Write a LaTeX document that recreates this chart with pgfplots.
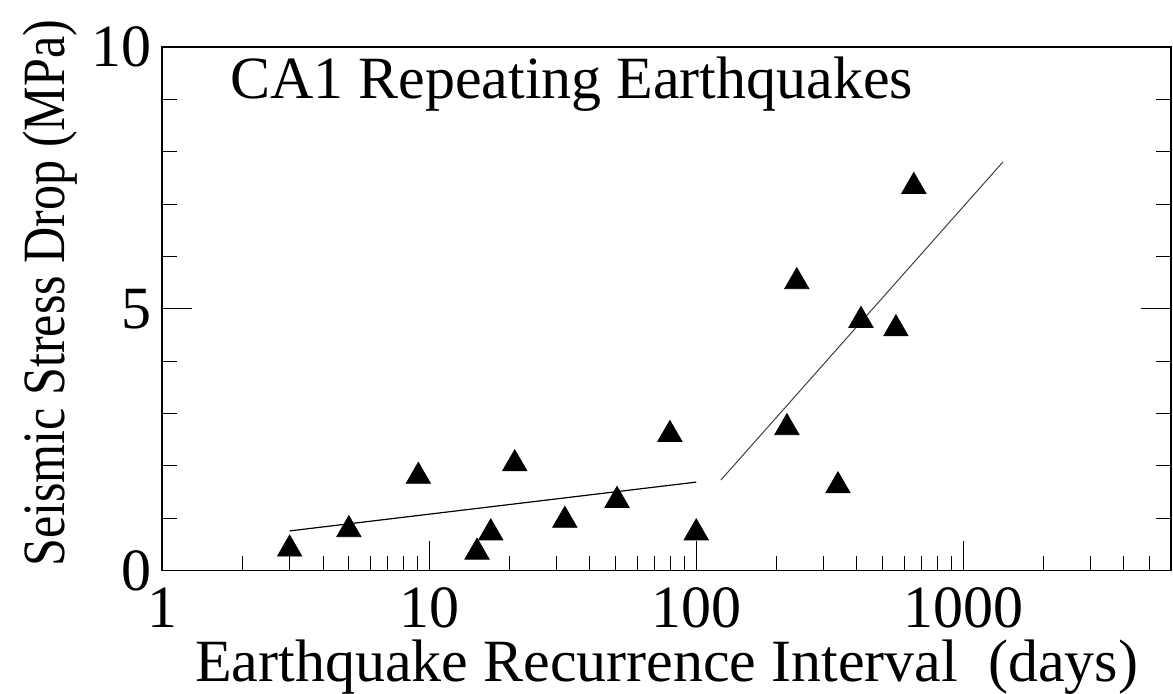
\documentclass[border=0pt]{standalone}
\usepackage{fontspec}
\setmainfont{Liberation Serif}
\usepackage{graphicx}
\usepackage{pgfplots}
\pgfplotsset{compat=1.18}
\begin{document}
\begin{tikzpicture}
\begin{axis}[
  scale only axis,
  width=504.5pt, height=261.7pt,
  xmode=log, xmin=1, xmax=6000,
  ymin=0, ymax=10,
  xtick={1,10,100,1000}, xticklabels={1,10,100,1000},
  minor xtick={2,3,4,5,6,7,8,9,20,30,40,50,60,70,80,90,200,300,400,500,600,700,800,900,2000,3000,4000,5000},
  ytick={0,5,10},
  minor ytick={1,2,3,4,6,7,8,9},
  tick align=inside,
  xtick pos=left, ytick pos=both,
  major tick length=15pt, minor tick length=7.5pt,
  every tick/.style={black, line width=0.5pt},
  axis line style={line width=0.8pt},
  /pgf/number format/assume math mode=true,
  tick label style={font=\fontsize{30}{36}\selectfont, inner sep=2pt},
  xticklabel style={inner sep=0pt, yshift=-8.5pt},
  yticklabel style={xshift=-3pt},
  xlabel={Earthquake Recurrence Interval\ \ (days)},
  xlabel style={font=\fontsize{30}{36}\selectfont, at={(rel axis cs:0.5,0)}, anchor=base, yshift=-55.7pt, inner sep=0pt},
  ylabel={\scalebox{0.835}[1]{Seismic Stress Drop (MPa)}},
  ylabel style={font=\fontsize{30}{36}\selectfont, at={(axis description cs:-0.0971,0.53)}, anchor=base, inner sep=0pt},
  clip=false,
]
\addplot[black, line width=0.6pt, mark=none] coordinates {(3,0.757) (100,1.69)};
\addplot[black!75, line width=0.5pt, mark=none] coordinates {(123.7,1.73) (1409,7.81)};
\addplot[only marks, mark=triangle*, mark size=7pt, black] coordinates {
(3,0.41) (5,0.78) (9.1,1.80) (15.1,0.35) (17,0.72) (20.9,2.04) (32.2,0.96)
(50.5,1.34) (79.7,2.60) (100,0.72) (218.6,2.73) (238,5.52) (339.5,1.62)
(414,4.78) (559.6,4.62) (653,7.34)};
\node[anchor=base west, inner sep=0pt, font=\fontsize{30}{36}\selectfont] at (rel axis cs:0.067,0.903) {CA1 Repeating Earthquakes};
\end{axis}
\pgfresetboundingbox
\path ([xshift=-81.15pt,yshift=-61.7pt]current axis.south west) rectangle ([xshift=1pt,yshift=23.65pt]current axis.north east);
\end{tikzpicture}
\end{document}
